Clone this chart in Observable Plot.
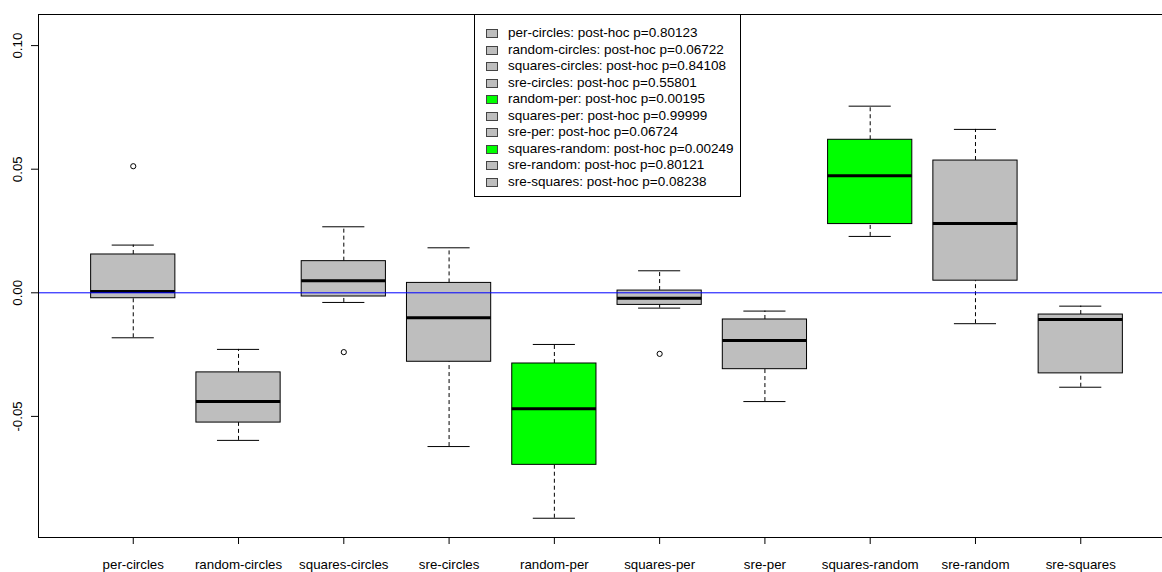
<!DOCTYPE html>
<html>
<head>
<meta charset="utf-8">
<script src="https://cdn.jsdelivr.net/npm/d3@7"></script>
<script src="https://cdn.jsdelivr.net/npm/@observablehq/plot@0.6"></script>
<style>
  html, body { margin: 0; padding: 0; overflow: hidden; background: white; }
  #wrap { position: relative; width: 1162px; height: 572px; overflow: hidden; }
  #legend { position: absolute; left: 474px; top: 14px; width: 265px; height: 181px;
            border: 1px solid #000; background: #fff; box-sizing: content-box;
            font-family: "Liberation Sans", Arial, sans-serif; font-size: 13.5px; color: #000; }
  .row { position: absolute; left: 0; height: 16px; line-height: 16px; white-space: nowrap; }
  .sw { position: absolute; left: 11px; top: 4px; width: 10px; height: 7px; border: 1px solid #444; }
  .lt { position: absolute; left: 33px; top: 0; }
</style>
</head>
<body>
<div id="wrap"><div id="legend"></div></div>
<script>
const categories = ["per-circles","random-circles","squares-circles","sre-circles","random-per","squares-per","sre-per","squares-random","sre-random","sre-squares"];
const whiskerLow  = [-0.0182,-0.0597,-0.0039,-0.0622,-0.0912,-0.0062,-0.0440, 0.0228,-0.0125,-0.0382];
const q1          = [-0.0022,-0.0525,-0.0015,-0.0279,-0.0696,-0.0049,-0.0309, 0.0278, 0.0049,-0.0326];
const median      = [ 0.0005,-0.0440, 0.0049,-0.0101,-0.0469,-0.0022,-0.0193, 0.0473, 0.0280,-0.0108];
const q3          = [ 0.0155,-0.0322, 0.0128, 0.0040,-0.0286, 0.0009,-0.0108, 0.0619, 0.0535,-0.0088];
const whiskerHigh = [ 0.0193,-0.0229, 0.0267, 0.0182,-0.0209, 0.0089,-0.0074, 0.0755, 0.0661,-0.0054];
const outlierGroup = ["per-circles","squares-circles","squares-per"];
const outlierValue = [0.0512,-0.0240,-0.0247];
const pValues = ["0.80123","0.06722","0.84108","0.55801","0.00195","0.99999","0.06724","0.00249","0.80121","0.08238"];
const yTicks = [-0.05, 0, 0.05, 0.10];
const yTickLabels = ["-0.05","0.00","0.05","0.10"];
const grayFill = "#BEBEBE", greenFill = "#00FF00";

const boxes = categories.map((c, i) => ({
  pos: i + 1, name: c,
  lo: whiskerLow[i], q1: q1[i], med: median[i], q3: q3[i], hi: whiskerHigh[i],
  fill: (+pValues[i] < 0.05) ? greenFill : grayFill
}));
const outliers = outlierGroup.map((g, i) => ({pos: categories.indexOf(g) + 1, v: outlierValue[i]}));
const yTickData = yTicks.map((v, i) => ({v, label: yTickLabels[i]}));

const chart = Plot.plot({
  width: 1162, height: 572,
  marginLeft: 38, marginRight: -13, marginTop: 14, marginBottom: 35,
  style: {fontFamily: "'Liberation Sans', Arial, sans-serif", fontSize: "13.3px", maxWidth: "none", color: "#000", background: "white"},
  x: {type: "linear", domain: [0.1, 10.9]},
  y: {domain: [-0.09899, 0.11258]},
  color: {type: "identity"},
  marks: [
    Plot.ruleX(boxes, {x: "pos", y1: "q3", y2: "hi", stroke: "#000", strokeDasharray: "4,3"}),
    Plot.ruleX(boxes, {x: "pos", y1: "lo", y2: "q1", stroke: "#000", strokeDasharray: "4,3"}),
    Plot.ruleY(boxes, {y: "hi", x1: d => d.pos - 0.2, x2: d => d.pos + 0.2, stroke: "#000"}),
    Plot.ruleY(boxes, {y: "lo", x1: d => d.pos - 0.2, x2: d => d.pos + 0.2, stroke: "#000"}),
    Plot.rect(boxes, {x1: d => d.pos - 0.4, x2: d => d.pos + 0.4, y1: "q1", y2: "q3", fill: "fill", stroke: "#000", strokeWidth: 1}),
    Plot.ruleY(boxes, {y: "med", x1: d => d.pos - 0.4, x2: d => d.pos + 0.4, stroke: "#000", strokeWidth: 3}),
    Plot.dot(outliers, {x: "pos", y: "v", r: 2.6, stroke: "#000", fill: "none", strokeWidth: 1}),
    Plot.ruleY([0], {stroke: "#0000FF", strokeWidth: 1}),
    Plot.axisX(d3.range(1, categories.length + 1), {tickSize: 7, tickPadding: 15, tickFormat: d => categories[d - 1], label: null, fontSize: 13.3}),
    Plot.axisY(yTicks, {tickSize: 7, tickFormat: () => "", label: null}),
    Plot.text(yTickData, {y: "v", text: "label", frameAnchor: "left", dx: -21, rotate: -90, textAnchor: "middle", lineAnchor: "middle", fontSize: 13.3}),
    Plot.frame({stroke: "#000"})
  ]
});
document.getElementById("wrap").prepend(chart);

const legend = document.getElementById("legend");
categories.forEach((c, i) => {
  const row = document.createElement("div");
  row.className = "row";
  row.style.top = (10 + i * 16.5) + "px";
  row.style.width = "100%";
  const sw = document.createElement("div");
  sw.className = "sw";
  sw.style.background = boxes[i].fill;
  const t = document.createElement("span");
  t.className = "lt";
  t.textContent = c + ": post-hoc p=" + pValues[i];
  row.appendChild(sw); row.appendChild(t);
  legend.appendChild(row);
});
</script>
</body>
</html>
